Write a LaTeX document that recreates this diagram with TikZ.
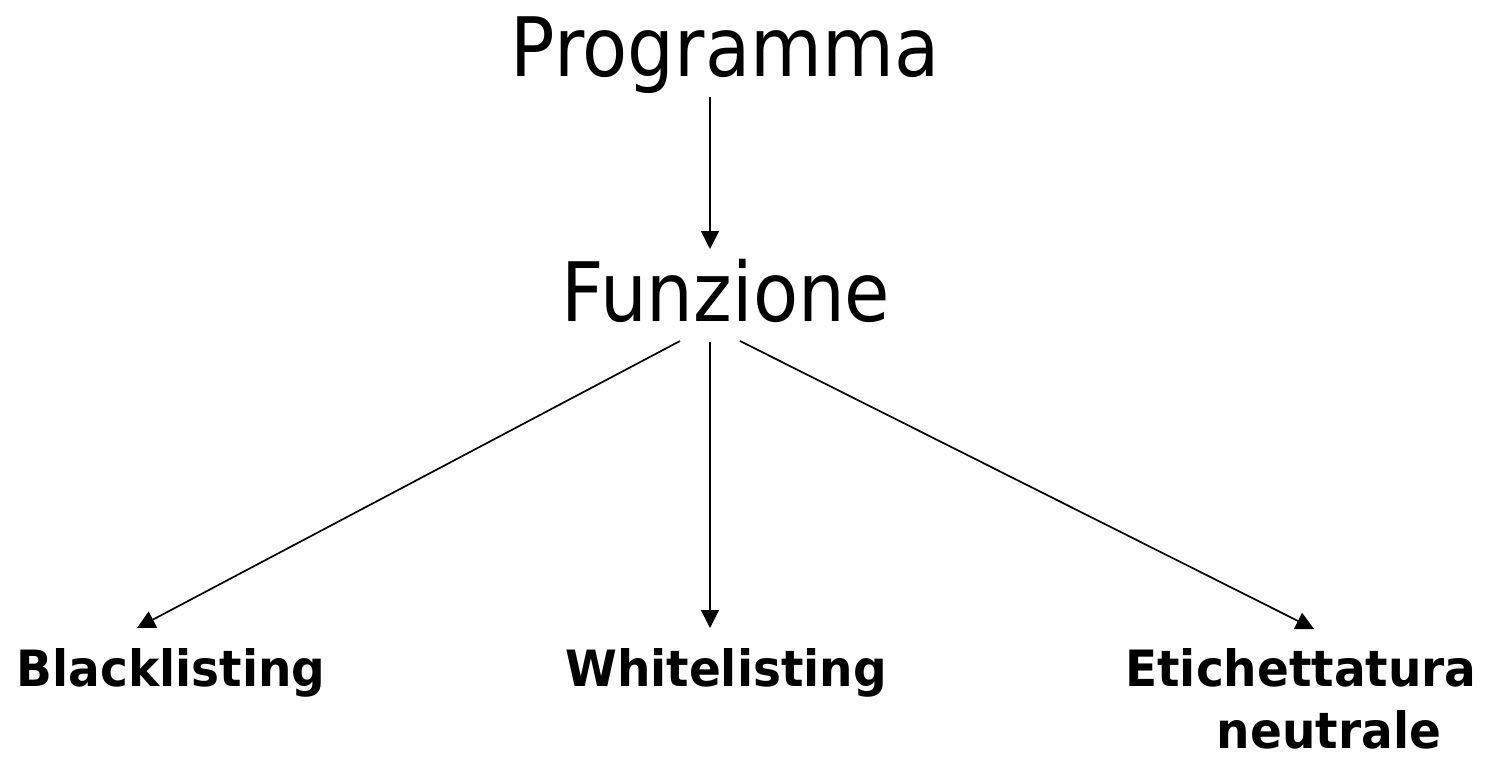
\documentclass[tikz,border=0pt]{standalone}
\usepackage{fontspec}
\setmainfont{DejaVu Sans}[FakeStretch=0.9]
\newfontfamily\leaffont{DejaVu Sans}[FakeStretch=0.94]
\usetikzlibrary{arrows.meta}
\tikzset{
  big/.style={font=\fontsize{82}{90}\selectfont, inner sep=0pt, anchor=base},
  leaf/.style={font=\leaffont\bfseries\fontsize{50}{62}\selectfont, inner sep=0pt, anchor=base, align=center},
  conn/.style={line width=1.7pt, -{Triangle[length=18pt,width=18pt]}}
}
\begin{document}
\begin{tikzpicture}[x=1pt,y=-1pt]
\useasboundingbox (0,0) rectangle (1487,763);
\node[big] (prog) at (725,76) {Programma};
\node[big] (funz) at (726,321) {Funzione};
\node[leaf] (black) at (171,686) {Blacklisting};
\node[leaf] (white) at (726,686) {Whitelisting};
\node[leaf, anchor=north] (etic) at (1301,648) {Etichettatura\\\hspace*{56pt}neutrale};
\coordinate (p1) at (710,97);
\coordinate (f0) at (710,249);
\coordinate (fl) at (680,341);
\coordinate (fm) at (710,342);
\coordinate (fr) at (740,341);
\coordinate (bt) at (137,628);
\coordinate (wt) at (710,628);
\coordinate (et) at (1314,629);
\draw[conn] (p1) -- (f0);
\draw[conn] (fl) -- (bt);
\draw[conn] (fm) -- (wt);
\draw[conn] (fr) -- (et);
\end{tikzpicture}
\end{document}
